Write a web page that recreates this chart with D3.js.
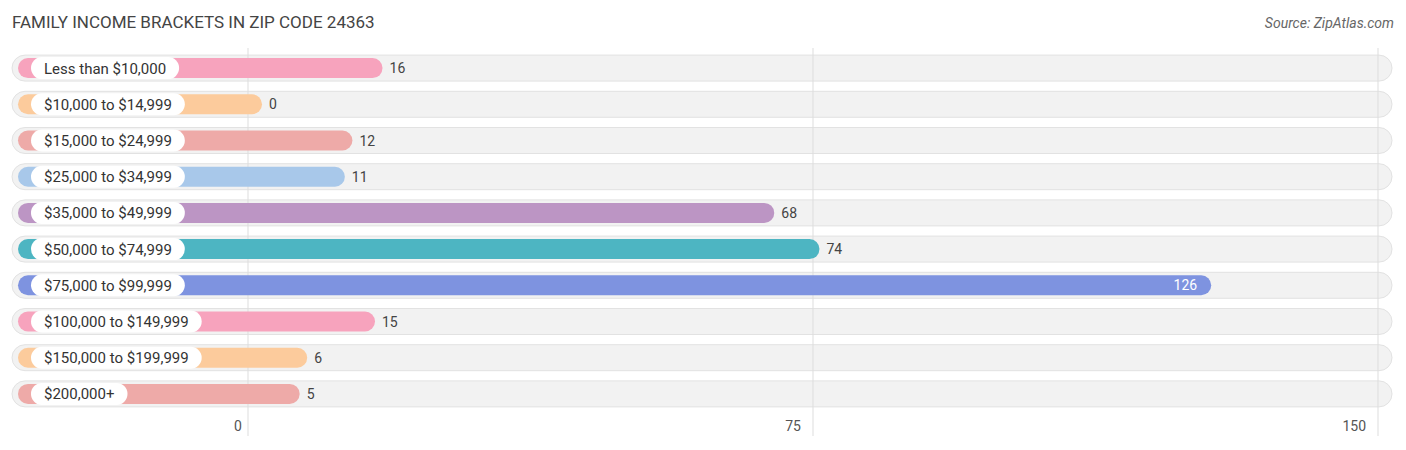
<!DOCTYPE html>
<html><head><meta charset="utf-8">
<script src="https://cdn.jsdelivr.net/npm/d3@7"></script>
<style>body{margin:0;background:#fff;font-family:Roboto,"Open Sans",sans-serif;}</style>
</head><body><svg id="c" width="1406" height="450"></svg>
<script>
const categories=["Less than $10,000","$10,000 to $14,999","$15,000 to $24,999","$25,000 to $34,999","$35,000 to $49,999","$50,000 to $74,999","$75,000 to $99,999","$100,000 to $149,999","$150,000 to $199,999","$200,000+"];
const values=[16,0,12,11,68,74,126,15,6,5];
const colors=["#f7a3bd","#fccb9c","#eeaaa8","#a8c8ea","#bc95c4","#4db5c2","#7e93e0","#f7a3bd","#fccb9c","#eeaaa8"];
const tickValues=[0,75,150];
const svg=d3.select("#c");
const x=d3.scaleLinear().domain([0,150]).range([248,1378]);
const y=d3.scaleBand().domain(categories).range([50,412]).paddingInner(0);
svg.append("text").attr("x",12).attr("y",28).attr("font-size",17).attr("fill","#444").text("FAMILY INCOME BRACKETS IN ZIP CODE 24363");
svg.append("text").attr("x",1394).attr("y",28).attr("text-anchor","end").attr("font-size",14).attr("font-style","italic").attr("fill","#666").text("Source: ZipAtlas.com");
const g=svg.append("g");
categories.forEach((c,i)=>{
  const cy=y(c)+y.bandwidth()/2;
  g.append("rect").attr("x",12).attr("y",cy-13).attr("width",1380).attr("height",26).attr("rx",13).attr("fill","#f2f2f2").attr("stroke","#e2e2e2");
});
tickValues.forEach(t=>{
  g.append("line").attr("x1",x(t)).attr("x2",x(t)).attr("y1",48).attr("y2",436).attr("stroke","#ddd");
  svg.append("text").attr("x",x(t)).attr("y",431).attr("text-anchor",t===0?"middle":"end").attr("dx",t===0?-10:-12).attr("font-size",14).attr("fill","#555").text(t);
});
categories.forEach((c,i)=>{
  const cy=y(c)+y.bandwidth()/2, v=values[i];
  const xe=x(v)+14;
  g.append("rect").attr("x",18).attr("y",cy-10).attr("width",xe-18).attr("height",20).attr("rx",10).attr("fill",colors[i]);
  const t=g.append("text").attr("x",44).attr("y",cy+5.5).attr("font-size",15).attr("fill","#333").text(c);
  const w=t.node().getComputedTextLength();
  g.insert("rect","text:last-of-type").attr("x",31).attr("y",cy-11).attr("width",w+26).attr("height",22).attr("rx",11).attr("fill","#fff");
  t.raise();
  const inside=v>100;
  g.append("text").attr("x",inside?xe-14:xe+7).attr("y",cy+5).attr("text-anchor",inside?"end":"start").attr("font-size",14).attr("fill",inside?"#fff":"#444").text(v);
});
</script></body></html>
